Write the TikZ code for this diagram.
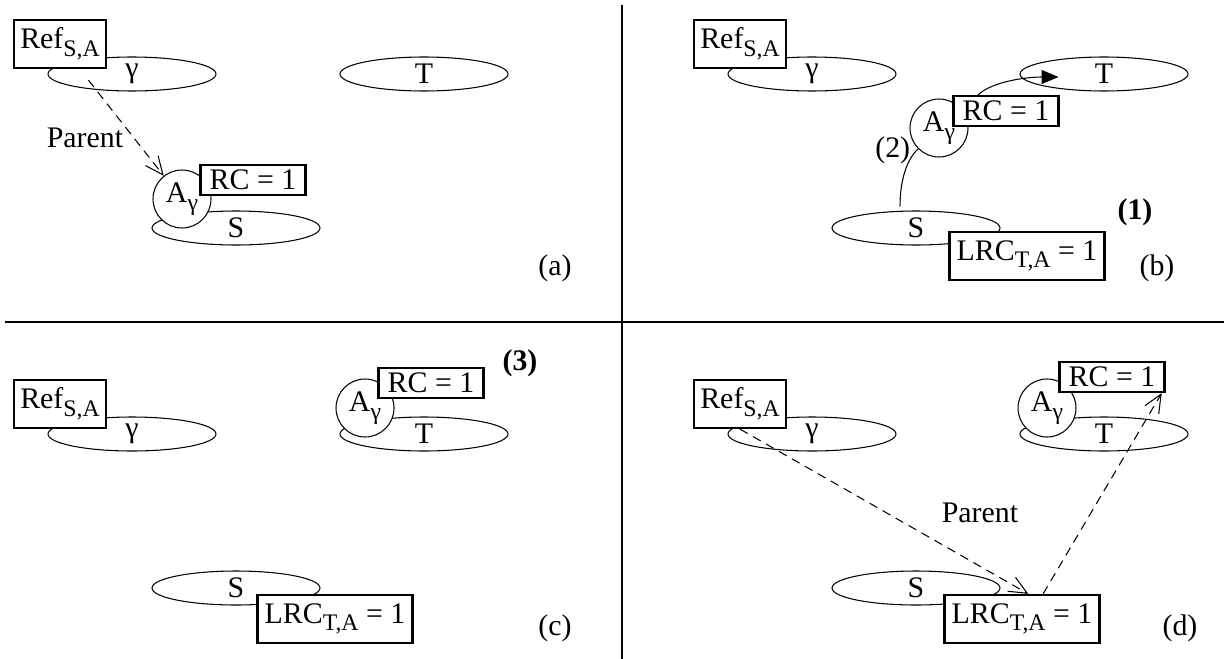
\documentclass[tikz,border=0pt]{standalone}
\usepackage{fontspec}
\setmainfont{Liberation Serif}
\usetikzlibrary{arrows.meta,shapes.geometric,calc}
\newcommand{\figfont}{\fontsize{17}{20}\selectfont}
\newcommand{\sub}[1]{\raisebox{-.55ex}{\fontsize{13.5}{14}\selectfont#1}}

\tikzset{
  set/.style={draw,ellipse,line width=.6pt,minimum width=3.36cm,
    minimum height=.68cm,inner sep=0pt},
  obj/.style={draw,circle,fill=white,line width=.6pt,minimum size=1.16cm,
    inner sep=0pt},
  cnt/.style={draw,fill=white,line width=1.3pt,inner sep=1pt},
  refbox/.style={cnt,minimum width=1.84cm,minimum height=.96cm},
  rcbox/.style={cnt,minimum width=2.1cm,minimum height=.6cm},
  lrcbox/.style={cnt,minimum width=3.1cm,minimum height=.96cm},
  parent/.style={line width=.6pt,dash pattern=on 5pt off 3.5pt,
    -{Straight Barb[length=.36cm,width=.32cm]}},
}

\begin{document}
\begin{tikzpicture}[x=.02cm,y=-.02cm,font=\figfont]
  \useasboundingbox (0,0) rectangle (1224,659);
  \draw[line width=1pt] (622,5)--(622,659);
  \draw[line width=1pt] (5,322)--(1224,322);

  % the same three sets in every panel
  \foreach \p/\dx/\dy/\lx in {a/0/0/555,b/680/0/1157,c/0/360/555,d/680/360/1180}{
    \node[set] (gam\p) at (132+\dx,74+\dy) {γ};
    \node[set] (T\p) at (424+\dx,74+\dy) {T};
    \node[set] (S\p) at (236+\dx,228+\dy) {S};
    \node[refbox] (ref\p) at (60+\dx,44+\dy) {Ref\sub{S,A}};
    \node (lbl\p) at (\lx,268+\dy) {(\p)};
  }

  % (a)
  \node[obj] (Aa) at (182,199) {A\sub{γ}};
  \node[rcbox] (rca) at (253,180) {RC = 1};
  \draw[parent,shorten <=8pt] (refa) -- (Aa);
  \node (para) at (85,138) {Parent};

  % (b)
  \node[obj] (Ab) at (939,128) {A\sub{γ}};
  \node[rcbox] (rcb) at (1006,111) {RC = 1};
  \node[lrcbox] (lrcb) at (1027,256) {LRC\sub{T,A} = 1};
  \draw[line width=.6pt,-{Triangle[length=.34cm,width=.28cm]}]
    (rcb.150) .. controls +(15,-14) and +(-30,0) .. ($(Tb.west)+(39,3)$);
  \draw[line width=.6pt] ($(Sb.north)+(-16,-4)$)
    .. controls +(0,-27) and +(-11,10) .. (Ab.225)
    node[pos=.95,left] {(2)};
  \node[font=\figfont\bfseries] (stepone) at (1135,212) {(1)};

  % (c)
  \node[obj] (Ac) at (365,408) {A\sub{γ}};
  \node[rcbox] (rcc) at (431,383) {RC = 1};
  \node[lrcbox] (lrcc) at (335,619) {LRC\sub{T,A} = 1};
  \node[font=\figfont\bfseries] (stepthree) at (520,363) {(3)};

  % (d)
  \node[obj] (Ad) at (1047,408) {A\sub{γ}};
  \node[rcbox] (rcd) at (1112,377) {RC = 1};
  \node[lrcbox] (lrcd) at (1022,619) {LRC\sub{T,A} = 1};
  \draw[parent] (refd.south) -- (lrcd.76);
  \draw[parent] (lrcd.50) -- (rcd.-18);
  \node (pard) at (980,513) {Parent};
\end{tikzpicture}
\end{document}
